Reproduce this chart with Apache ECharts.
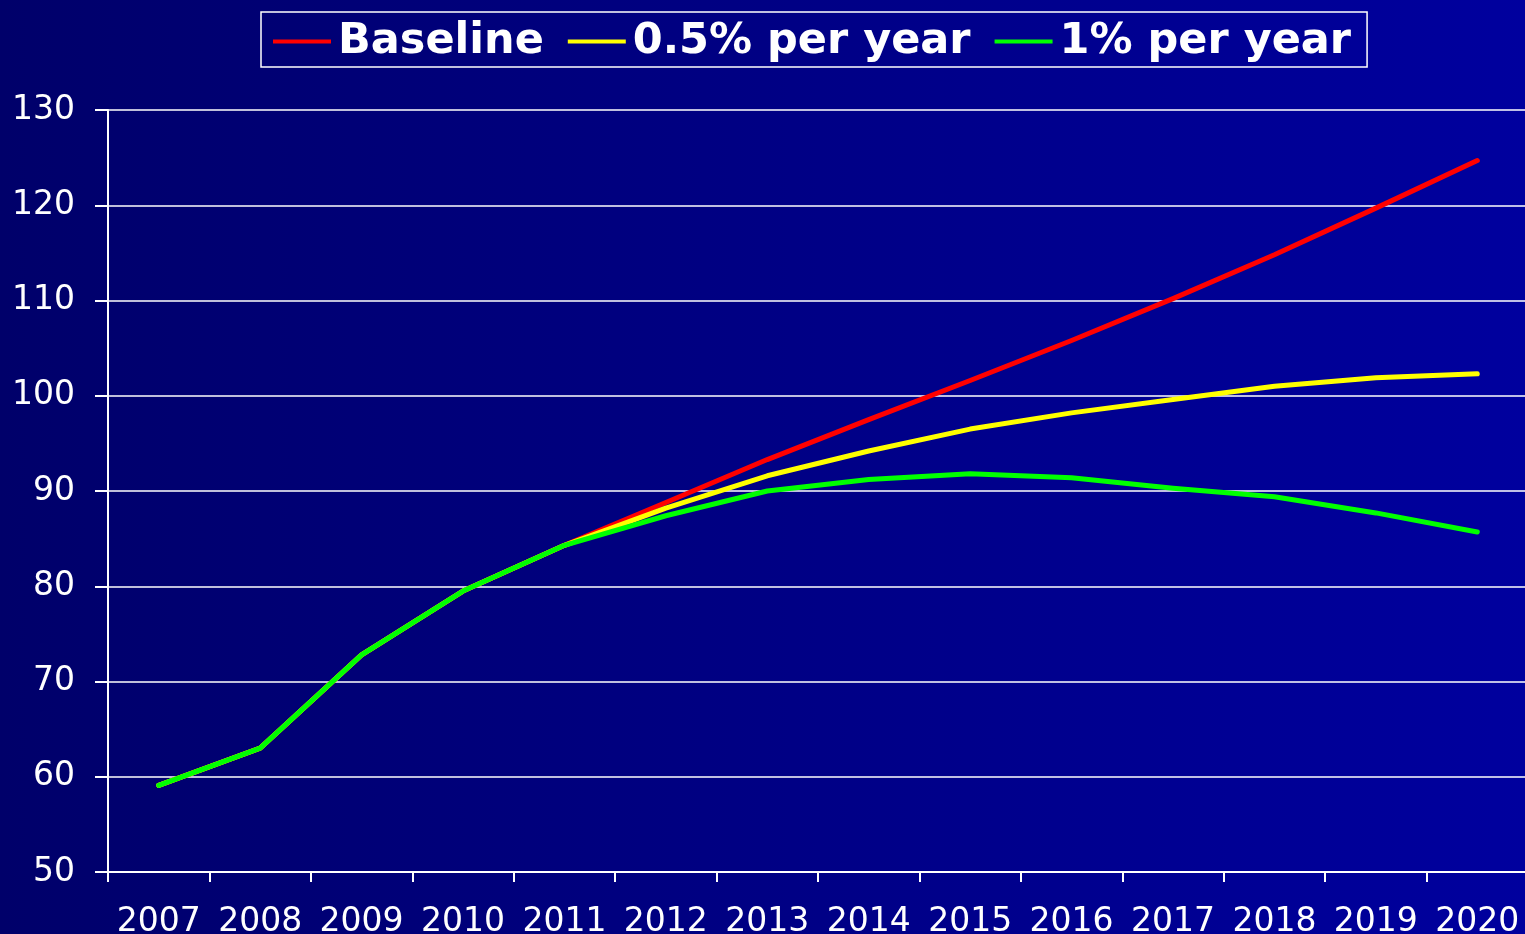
<!DOCTYPE html>
<html>
<head>
<meta charset="utf-8">
<script src="https://cdn.jsdelivr.net/npm/echarts@6/dist/echarts.min.js"></script>
<style>
  html,body{margin:0;padding:0;background:#000070;}
  #chart{width:1525px;height:934px;}
</style>
</head>
<body>
<div id="chart"></div>
<script>
const years = ['2007','2008','2009','2010','2011','2012','2013','2014','2015','2016','2017','2018','2019','2020']
const baseline = [59.1, 63.0, 72.8, 79.5, 84.3, 88.8, 93.3, 97.5, 101.6, 105.8, 110.2, 114.8, 119.7, 124.7]
const halfPct  = [59.1, 63.0, 72.8, 79.5, 84.3, 88.2, 91.6, 94.2, 96.5, 98.2, 99.6, 101.0, 101.9, 102.3]
const onePct   = [59.1, 63.0, 72.8, 79.5, 84.3, 87.4, 90.0, 91.2, 91.8, 91.4, 90.3, 89.4, 87.7, 85.7]
const yTicks = {min: 50, max: 130, step: 10}

const chart = echarts.init(document.getElementById('chart'))

function line(name, data, color, z){
  return {
    name, type:'line', data, z,
    symbol:'none', smooth:false,
    lineStyle:{color, width:5, cap:'round', join:'round'},
    itemStyle:{color},
    emphasis:{disabled:true}
  }
}

const option = {
  animation:false,
  backgroundColor:new echarts.graphic.LinearGradient(0,0,1,0,[
    {offset:0, color:'#00006a'},
    {offset:1, color:'#00009e'}
  ]),
  legend:{
    left:261, top:12,
    padding:[8,16,4,12],
    borderColor:'#ffffff', borderWidth:1.5,
    icon:'rect', itemWidth:58, itemHeight:4, itemGap:24,
    textStyle:{color:'#ffffff', fontFamily:'DejaVu Sans', fontWeight:'bold', fontSize:43, padding:[0,0,0,2]},
    data:['Baseline','0.5% per year','1% per year']
  },
  grid:{left:108, right:-3, top:110, bottom:62, containLabel:false, outerBoundsMode:'none'},
  xAxis:{
    type:'category', data:years, boundaryGap:true,
    axisLine:{lineStyle:{color:'#ffffff', width:2}},
    axisTick:{show:true, length:10, lineStyle:{color:'#ffffff', width:2}},
    axisLabel:{color:'#ffffff', fontFamily:'DejaVu Sans', fontSize:33, margin:34, interval:0},
    splitLine:{show:false}
  },
  yAxis:{
    type:'value', min:yTicks.min, max:yTicks.max, interval:yTicks.step,
    axisLine:{show:true, lineStyle:{color:'#ffffff', width:2}},
    axisTick:{show:true, length:13, lineStyle:{color:'#ffffff', width:2}},
    axisLabel:{color:'#ffffff', fontFamily:'DejaVu Sans', fontSize:33, margin:33},
    splitLine:{show:true, lineStyle:{color:'#ffffff', width:1.5}}
  },
  series:[
    line('Baseline', baseline, '#ff0000', 2),
    line('0.5% per year', halfPct, '#ffff00', 3),
    line('1% per year', onePct, '#00ff00', 4)
  ]
}

chart.setOption(option)
</script>
</body>
</html>
